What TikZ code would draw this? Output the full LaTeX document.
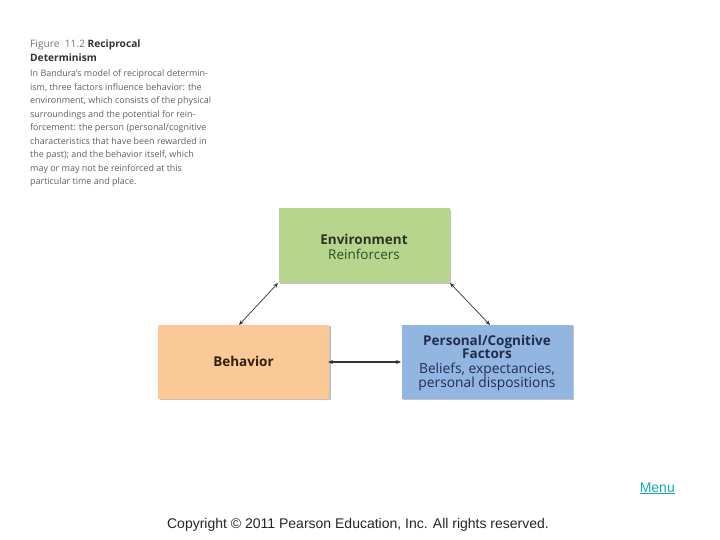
\documentclass[tikz,border=0pt]{standalone}
\usepackage{fontspec}
\setmainfont{Open Sans}
\newfontfamily\arialf{Liberation Sans}
\usetikzlibrary{shadows,arrows.meta}
\definecolor{envgreen}{RGB}{183,213,141}
\definecolor{behorange}{RGB}{251,201,150}
\definecolor{perblue}{RGB}{146,181,226}
\definecolor{captgray}{RGB}{95,95,95}
\definecolor{navytext}{RGB}{35,45,75}
\definecolor{darktext}{RGB}{45,50,40}
\definecolor{menuteal}{RGB}{20,170,170}
\tikzset{
  fbox/.style={rectangle, minimum width=171pt, minimum height=74pt, inner sep=0pt, align=center,
    drop shadow={shadow xshift=1.5pt, shadow yshift=-1.5pt, opacity=0.4, fill=black!60}},
  boxtext/.style={inner sep=0pt, align=center},
  link/.style={{Stealth[length=5pt,width=4pt]}-{Stealth[length=5pt,width=4pt]}, line width=0.7pt, draw=black!80},
}
\begin{document}
\begin{tikzpicture}[x=1pt,y=-1pt]
\useasboundingbox (0,0) rectangle (720,540);
\fill[white] (0,0) rectangle (720,540);
% caption
\node[anchor=north west, inner sep=0pt, align=left, font=\fontsize{10.2}{14}\selectfont] (capt) at (30,40)
{{\color{black!55}Figure\ \ 11.2} \textbf{\color{black!80}Reciprocal}\\
\textbf{\color{black!80}Determinism}};
\node[anchor=north west, inner sep=0pt, align=left, font=\fontsize{8.95}{13.55}\selectfont, text=captgray] (cap) at (30,69.5)
{In Bandura's model of reciprocal determin-\\
ism, three factors influence behavior: the\\
environment, which consists of the physical\\
surroundings and the potential for rein-\\
forcement: the person (personal/cognitive\\
characteristics that have been rewarded in\\
the past); and the behavior itself, which\\
may or may not be reinforced at this\\
particular time and place.};
% boxes
\node[fbox, fill=envgreen] (env) at (364,245.5) {};
\node[boxtext, font=\fontsize{13.5}{15.5}\selectfont] (envtext) at (364,247)
{\textbf{\color{darktext}Environment}\\{\color{darktext!85!green}Reinforcers}};
\node[fbox, fill=behorange, font=\fontsize{13.5}{15}\selectfont] (beh) at (243.5,361.5)
{\textbf{\color{black!75!brown}Behavior}};
\node[fbox, fill=perblue] (per) at (487,361.5) {};
\node[boxtext, font=\fontsize{13.5}{13}\selectfont, text=navytext] (pertext) at (487,363)
{\textbf{Personal/Cognitive}\\\textbf{Factors}\\[2pt]{\fontsize{13.8}{12.5}\selectfont Beliefs, expectancies,}\\[-1pt]{\fontsize{13.8}{12.5}\selectfont personal dispositions}};
% arrow ends
\coordinate (a1) at (278,283);
\coordinate (a2) at (239,325);
\coordinate (b1) at (450,283);
\coordinate (b2) at (490,325);
\coordinate (c1) at (328,362);
\coordinate (c2) at (401,362);
\draw[link] (a1) -- (a2);
\draw[link] (b1) -- (b2);
\draw[link, line width=1.1pt] (c1) -- (c2);
% footer
\node[anchor=base east, inner sep=0pt, font=\arialf\fontsize{14}{14}\selectfont, text=menuteal] (menu) at (675,492) {\underline{Menu}};
\node[anchor=base, inner sep=0pt, font=\arialf\fontsize{14}{14}\selectfont, text=black!85] (copy) at (358,528) {Copyright © 2011 Pearson Education, Inc. All rights reserved.};
\end{tikzpicture}
\end{document}
